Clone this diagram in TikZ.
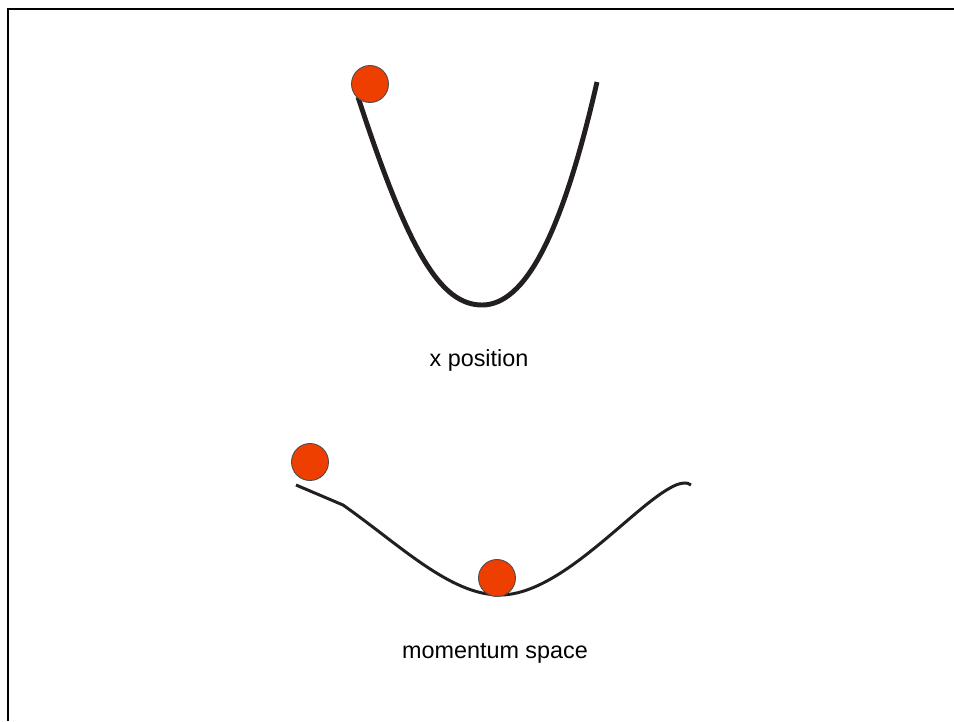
\documentclass[tikz,border=0pt]{standalone}
\usepackage{fontspec}
\setmainfont{Liberation Sans}
\usepackage{xcolor}
\definecolor{ballcol}{RGB}{238,62,0}
\definecolor{curvecol}{RGB}{35,31,32}

\begin{document}
\begin{tikzpicture}[x=0.02cm, y=-0.02cm,
    ball/.style={circle, draw=curvecol!80, line width=0.5pt, fill=ballcol, minimum size=0.74cm, inner sep=0pt},
    label/.style={font=\fontsize{13.3}{16}\selectfont, anchor=base}]
  \useasboundingbox (0,0) rectangle (954,721);
  % frame
  \draw[line width=1.4pt] (8,721) -- (8,9) -- (954,9);
  % x position well
  \draw[curvecol, line width=2.8pt] (358,97) .. controls (408,250) and (440,305) .. (482,305)
    .. controls (525,305) and (562,235) .. (597,82);
  % momentum space well
  \draw[curvecol, line width=1.7pt] (296,485) -- (343,505)
    .. controls (400,545) and (450,595) .. (500,595)
    .. controls (560,595) and (630,510) .. (670,488)
    .. controls (680,482) and (688,482) .. (691,485);
  \foreach \name/\bx/\by in {ballx/370/84, ballpa/310/462, ballpb/497/578}
    \node[ball] (\name) at (\bx,\by) {};
  \node[label] (xlab) at (479,366) {x position};
  \node[label] (plab) at (495,658) {momentum space};
\end{tikzpicture}
\end{document}
